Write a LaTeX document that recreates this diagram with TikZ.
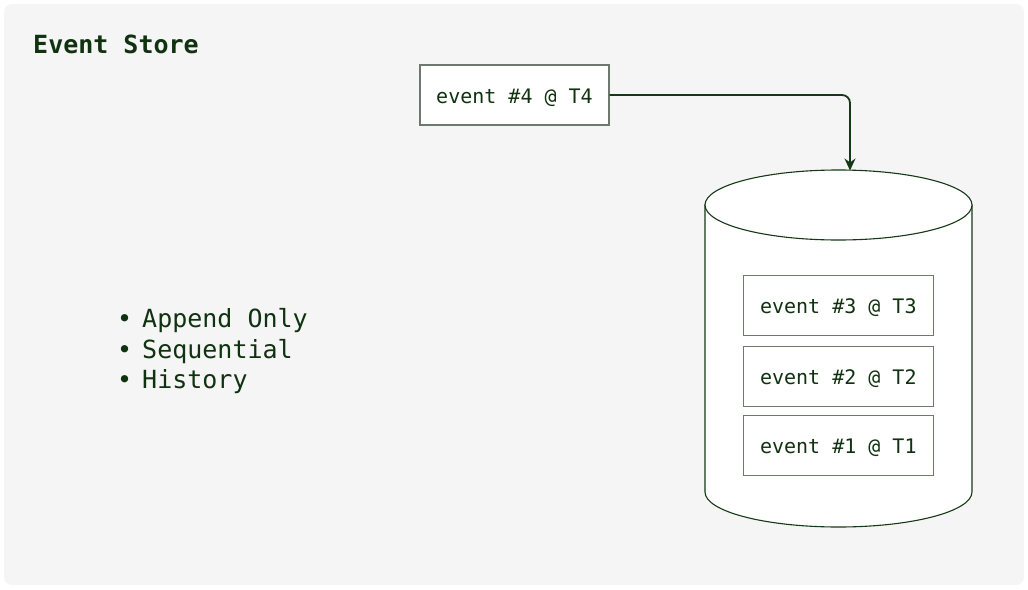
\documentclass[tikz,border=0pt]{standalone}
\usepackage{fontspec}
\newfontfamily\dmono{DejaVu Sans Mono}
\usetikzlibrary{arrows.meta}
\definecolor{txt}{RGB}{16,50,16}
\definecolor{boxgray}{RGB}{110,120,110}
\definecolor{cylline}{RGB}{22,56,22}
\definecolor{bg}{RGB}{245,245,245}
\tikzset{
  evbox/.style={draw=boxgray, fill=white, line width=1.2pt, minimum width=189pt, minimum height=60pt, inner sep=0pt, text height=19pt, text depth=3pt, text=txt, font=\dmono\fontsize{20}{24}\selectfont},
  listitem/.style={anchor=base west, inner sep=0pt, text=txt, font=\dmono\fontsize{25}{30}\selectfont},
  titletext/.style={anchor=base west, inner sep=0pt, text=txt, font=\dmono\bfseries\fontsize{25}{30}\selectfont},
  cylstyle/.style={draw=cylline, fill=white, line width=1.1pt},
  arrowline/.style={draw=cylline, line width=1.8pt, rounded corners=8pt, -{Stealth[length=12pt,width=11pt]}}
}
\newcommand{\bul}{\llap{\textbullet\hspace{10pt}}}
\begin{document}
\begin{tikzpicture}[x=1pt,y=-1pt]
\useasboundingbox (0,0) rectangle (1028,589);
\fill[bg, rounded corners=8pt] (4,4) rectangle (1024,585);
% title
\node[titletext] (title) at (33,53.5) {Event Store};
% bullets
\node[listitem] (li1) at (142,327.5) {\bul Append Only};
\node[listitem] (li2) at (142,358) {\bul Sequential};
\node[listitem] (li3) at (142,388) {\bul History};
% cylinder
\path[cylstyle] (705,205) -- (705,492) arc[start angle=180, end angle=0, x radius=133.5, y radius=35] -- (972,205) -- cycle;
\path[cylstyle] (838.5,205) ellipse [x radius=133.5, y radius=35];
\coordinate (cyltop) at (850,170.5);
% stored events
\node[evbox, minimum width=190pt] (e3) at (838.3,305.5) {event \#3 @ T3};
\node[evbox, minimum width=190pt] (e2) at (838.3,376.8) {event \#2 @ T2};
\node[evbox, minimum width=190pt] (e1) at (838.3,445.3) {event \#1 @ T1};
% incoming event
\node[evbox] (e4) at (514.5,95) {event \#4 @ T4};
\draw[arrowline] (e4.east) -| (cyltop);
\end{tikzpicture}
\end{document}
